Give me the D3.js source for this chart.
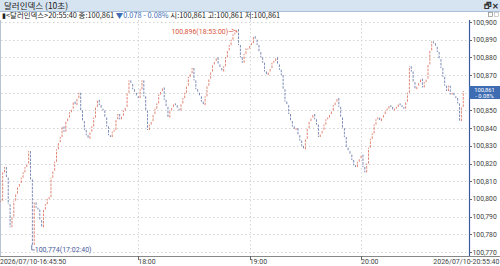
<!DOCTYPE html>
<html><head><meta charset="utf-8">
<script src="https://cdn.jsdelivr.net/npm/d3@7"></script>
<style>
html,body{margin:0;padding:0;background:#fff;overflow:hidden;}
svg{display:block;font-family:"Noto Sans CJK KR","Noto Sans",sans-serif;}
</style></head><body>
<script>
// ---- data ----
const title = "달러인덱스 (10초)";
const startTime = "2026-07-10T16:45:50";
const endTime = "2026-07-10T20:55:40";
const firstBarTime = "2026-07-10T16:46:00";
// one-minute closes (100.xxx)
const closes = [
100.799,100.815,100.818,100.812,100.797,100.784,100.790,100.799,100.803,100.807,
100.809,100.812,100.815,100.818,100.820,100.827,100.811,100.774,100.798,100.795,
100.794,100.788,100.784,100.794,100.797,100.800,100.801,100.812,100.816,100.821,
100.828,100.832,100.835,100.841,100.838,100.844,100.846,100.849,100.851,100.855,
100.853,100.857,100.860,100.850,100.844,100.839,100.836,100.834,100.838,100.841,
100.846,100.852,100.856,100.853,100.851,100.850,100.846,100.841,100.836,100.835,
100.838,100.839,100.845,100.848,100.845,100.847,100.850,100.852,100.860,100.867,
100.865,100.862,100.860,100.858,100.857,100.862,100.867,100.858,100.850,100.839,
100.842,100.844,100.848,100.851,100.854,100.859,100.861,100.863,100.856,100.852,
100.846,100.850,100.852,100.854,100.853,100.851,100.850,100.854,100.857,100.860,
100.864,100.869,100.871,100.874,100.867,100.862,100.860,100.858,100.855,100.853,
100.858,100.864,100.868,100.872,100.876,100.878,100.880,100.876,100.874,100.872,
100.875,100.880,100.884,100.887,100.890,100.893,100.894,100.896,100.887,100.880,
100.877,100.882,100.885,100.885,100.887,100.888,100.892,100.890,100.887,100.883,
100.880,100.877,100.872,100.870,100.872,100.874,100.877,100.878,100.880,100.876,
100.873,100.870,100.862,100.855,100.853,100.848,100.844,100.841,100.839,100.840,
100.836,100.833,100.830,100.828,100.834,100.840,100.844,100.846,100.848,100.845,
100.842,100.835,100.837,100.839,100.842,100.845,100.846,100.848,100.850,100.853,
100.855,100.857,100.852,100.846,100.840,100.835,100.829,100.827,100.825,100.822,
100.819,100.818,100.821,100.823,100.825,100.818,100.815,100.820,100.829,100.834,
100.837,100.842,100.845,100.846,100.844,100.846,100.848,100.850,100.851,100.853,
100.852,100.850,100.851,100.852,100.854,100.853,100.852,100.851,100.855,100.860,
100.875,100.872,100.866,100.862,100.864,100.866,100.868,100.863,100.866,100.868,
100.876,100.884,100.889,100.888,100.886,100.883,100.879,100.874,100.869,100.864,
100.861,100.864,100.859,100.860,100.858,100.857,100.854,100.844,100.852,100.861];
const yTicks = [100.900,100.890,100.880,100.870,100.860,100.850,100.840,100.830,100.820,100.810,100.800,100.790,100.780,100.770];
const xTickTimes = ["2026-07-10T18:00:00","2026-07-10T19:00:00","2026-07-10T20:00:00"];
const xTickLabels = ["18:00","19:00","20:00"];
const startLabel = "2026/07/10-16:45:50";
const endLabel = "2026/07/10-20:55:40";
const infoText = "<달러인덱스>20:55:40 종:100,861  ";
const infoChange = "▼0.078  - 0.08%";
const infoRest = "  시:100,861  고:100,861  저:100,861";
const lastPrice = 100.861, lastPct = "- 0.08%";
const highLabel = "100,896(18:53:00)", highTime = "2026-07-10T18:53:00", highVal = 100.896;
const lowLabel = "100,774(17:02:40)", lowTime = "2026-07-10T17:02:40", lowVal = 100.774;

// ---- drawing ----
const W = 500, H = 266;
const RED = "#d9563e", BLUE = "#4a5d9c";
const NARROW = "'Liberation Sans Narrow', Roboto, sans-serif";
const svg = d3.select("body").append("svg").attr("width", W).attr("height", H);
const fmtVal = v => v.toFixed(3).replace(".", ",");

const x = d3.scaleTime().domain([new Date(startTime), new Date(endTime)]).range([0.5, 464.5]);
const y = d3.scaleLinear().domain([100.770, 100.900]).range([252, 22]);

// title bar
svg.append("rect").attr("x",0).attr("y",0).attr("width",W).attr("height",11).attr("fill","#d6e3f1");
svg.append("line").attr("x1",0).attr("x2",W).attr("y1",11.5).attr("y2",11.5).attr("stroke","#a9bfd8");
svg.append("text").attr("x",4).attr("y",8.5).attr("font-size",8.5).attr("fill","#1a1a1a").text(title);
svg.append("text").attr("x",484).attr("y",8.5).attr("font-size",8).attr("font-weight","bold").attr("fill","#333").text("🗗");
svg.append("text").attr("x",492).attr("y",8.5).attr("font-size",8).attr("font-weight","bold").attr("fill","#333").text("✕");

// plot area left border
svg.append("line").attr("x1",0.5).attr("x2",0.5).attr("y1",20).attr("y2",256).attr("stroke","#b8c4d4");

// grid
const g = svg.append("g");
g.selectAll("line.h").data(yTicks).join("line")
  .attr("x1",1).attr("x2",468).attr("y1",d=>Math.round(y(d))+0.5).attr("y2",d=>Math.round(y(d))+0.5)
  .attr("stroke","#d4d4d4").attr("stroke-dasharray","1.5,2.5");
g.selectAll("line.v").data(xTickTimes).join("line")
  .attr("x1",d=>Math.round(x(new Date(d)))+0.5).attr("x2",d=>Math.round(x(new Date(d)))+0.5)
  .attr("y1",20).attr("y2",256).attr("stroke","#d4d4d4").attr("stroke-dasharray","1.5,2.5");

// bars
const t0 = new Date(firstBarTime).getTime();
const bars = closes.map((c,i)=>({t:new Date(t0+i*60000), o: i? closes[i-1] : c, c}));
svg.append("g").selectAll("line").data(bars).join("line")
  .attr("x1",d=>x(d.t)).attr("x2",d=>x(d.t))
  .attr("y1",d=>y(d.o)).attr("y2",d=> d.c===d.o ? y(d.c)+1 : y(d.c))
  .attr("stroke",d=>d.c>=d.o?RED:BLUE).attr("stroke-width",0.9).attr("opacity",0.8)
  .attr("stroke-dasharray","2.5,1.2");

// right axis
svg.append("line").attr("x1",469.5).attr("x2",469.5).attr("y1",20).attr("y2",256).attr("stroke","#3b5aa0").attr("stroke-width",1.2);
const ly = y(lastPrice);
const shownTicks = yTicks.filter(d => Math.abs(y(d) - ly) > 8);
const ya = svg.append("g");
ya.selectAll("line").data(yTicks).join("line")
  .attr("x1",469.5).attr("x2",472).attr("y1",d=>Math.round(y(d))+0.5).attr("y2",d=>Math.round(y(d))+0.5).attr("stroke","#666");
ya.selectAll("text").data(shownTicks).join("text")
  .attr("x",472.5).attr("y",d=>y(d)+2.5).attr("font-size",6.8).attr("fill","#444")
  .attr("font-family",NARROW)
  .text(d=>fmtVal(d));
// small icons
svg.append("rect").attr("x",488.5).attr("y",12.5).attr("width",4).attr("height",4).attr("fill","none").attr("stroke","#888").attr("stroke-width",0.7);
svg.append("rect").attr("x",494.5).attr("y",12.5).attr("width",4).attr("height",4).attr("fill","none").attr("stroke","#bbb").attr("stroke-width",0.7);

// last price box
svg.append("rect").attr("x",469).attr("y",ly-5).attr("width",31).attr("height",13).attr("fill","#3d6cb3");
svg.append("text").attr("x",484.5).attr("y",ly+0.8).attr("text-anchor","middle").attr("font-size",5.8).attr("fill","#fff")
  .attr("font-family",NARROW).text(fmtVal(lastPrice));
svg.append("text").attr("x",484.5).attr("y",ly+7).attr("text-anchor","middle").attr("font-size",5.8).attr("fill","#fff")
  .attr("font-family",NARROW).text(lastPct);

// info line
const info = svg.append("text").attr("x",2).attr("y",18).attr("font-size",7.4).attr("fill","#222")
  .attr("font-family","'Liberation Sans Narrow','Noto Sans CJK KR',sans-serif");
info.append("tspan").attr("fill","#222").text("▮");
info.append("tspan").text(infoText);
info.append("tspan").attr("fill","#3d6cb3").text(infoChange);
info.append("tspan").text(infoRest);

// bottom axis
svg.append("line").attr("x1",0).attr("x2",W).attr("y1",256.5).attr("y2",256.5).attr("stroke","#888");
svg.selectAll("line.xt").data(xTickTimes).join("line")
  .attr("x1",d=>Math.round(x(new Date(d)))+0.5).attr("x2",d=>Math.round(x(new Date(d)))+0.5)
  .attr("y1",256).attr("y2",260).attr("stroke","#666");
svg.selectAll("text.xl").data(xTickTimes).join("text")
  .attr("x",d=>x(new Date(d))).attr("y",264).attr("font-size",7).attr("fill","#444")
  .attr("font-family",NARROW).text((d,i)=>xTickLabels[i]);
svg.append("text").attr("x",0).attr("y",264).attr("font-size",7).attr("fill","#444")
  .attr("font-family",NARROW).text(startLabel);
svg.append("text").attr("x",499.5).attr("y",264).attr("text-anchor","end").attr("font-size",7).attr("fill","#444")
  .attr("font-family",NARROW).text(endLabel);

// high / low annotations
const hx = x(new Date(highTime)), hy = y(highVal);
svg.append("text").attr("x",hx-3).attr("y",hy+5).attr("text-anchor","end").attr("font-size",7).attr("fill",RED)
  .attr("font-family",NARROW).text(highLabel + "—");
svg.append("path").attr("d",`M${hx-5},${hy} L${hx},${hy+2.5}`).attr("stroke",RED).attr("fill","none").attr("stroke-width",0.8);
const lx = x(new Date(lowTime)), lyy = y(lowVal);
svg.append("path").attr("d",`M${lx},${lyy} V${lyy+5} H${lx+3}`).attr("stroke",BLUE).attr("fill","none").attr("stroke-width",0.8);
svg.append("text").attr("x",lx+3).attr("y",lyy+7.5).attr("font-size",7).attr("fill",BLUE)
  .attr("font-family",NARROW).text(lowLabel);
</script>
</body></html>
